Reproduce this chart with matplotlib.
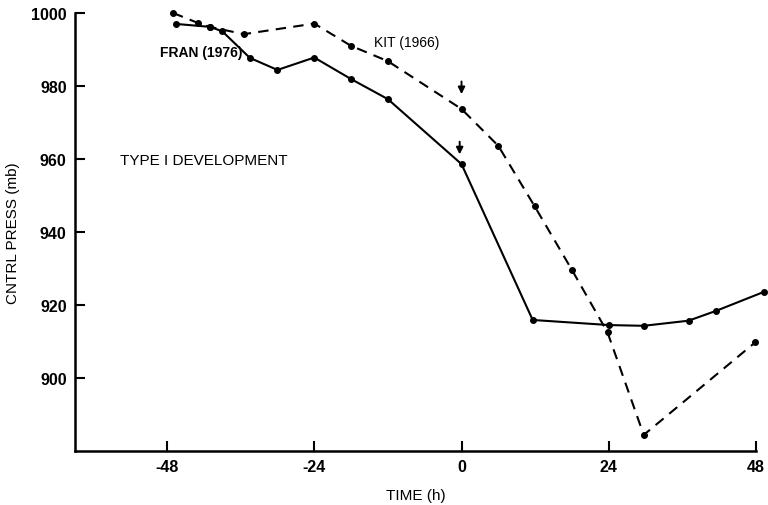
import matplotlib
matplotlib.use("Agg")
import matplotlib.pyplot as plt

# Data
fran_t = [-46.5, -41, -39, -34.5, -30, -24, -18, -12, 0, 11.6, 24.1, 29.7, 37.0, 41.5, 49.3]
fran_p = [997.0, 996.2, 995.0, 987.7, 984.4, 987.8, 981.9, 976.4, 958.6, 915.9, 914.5, 914.3, 915.7, 918.4, 923.6]

kit_t = [-47, -43, -41, -35.5, -24, -18, -12, 0, 6, 11.9, 18, 23.8, 29.7, 47.9]
kit_p = [1000.0, 997.3, 996.2, 994.2, 997.1, 991.0, 986.8, 973.7, 963.6, 947.1, 929.6, 912.5, 884.4, 909.8]

x_ticks = [-48, -24, 0, 24, 48]
x_tick_labels = ['-48', '-24', '0', '24', '48']
y_ticks = [900, 920, 940, 960, 980, 1000]
y_tick_labels = ['900', '920', '940', '960', '980', '1000']

plt.rcParams['font.family'] = ['Liberation Sans', 'DejaVu Sans']

fig = plt.figure(figsize=(7.68, 5.06), dpi=100)
ax = fig.add_axes([75/768, 54/506, (756-75)/768, (492-54)/506])

ax.plot(fran_t, fran_p, color='black', lw=1.5, marker='o', ms=4, clip_on=False)
ax.plot(kit_t, kit_p, color='black', lw=1.5, ls=(0, (5, 3.5)), marker='o', ms=4, clip_on=False)

ax.set_xlim(-63, 48)
ax.set_ylim(880, 1000)
ax.set_xticks(x_ticks)
ax.set_xticklabels(x_tick_labels)
ax.set_yticks(y_ticks)
ax.set_yticklabels(y_tick_labels)

for s in ['top', 'right']:
    ax.spines[s].set_visible(False)
for s in ['left', 'bottom']:
    ax.spines[s].set_linewidth(1.8)

ax.tick_params(direction='in', length=7, width=1.5, labelsize=11.5, pad=6)
for lab in ax.get_xticklabels() + ax.get_yticklabels():
    lab.set_fontweight('bold')

ax.set_xlabel('TIME (h)', fontsize=11, labelpad=10)
ax.set_ylabel('CNTRL PRESS (mb)', fontsize=11, labelpad=8)

ax.text(-49.2, 989.3, 'FRAN (1976)', fontsize=10, fontweight='bold', va='center', ha='left')
ax.text(-14.2, 992.0, 'KIT (1966)', fontsize=10, va='center', ha='left')
ax.text(-55.7, 959.7, 'TYPE I DEVELOPMENT', fontsize=11, va='center', ha='left')

ax.annotate('', xy=(0, 977.0), xytext=(0, 982.0),
            arrowprops=dict(arrowstyle='-|>', color='black', lw=1.4, mutation_scale=10))
ax.annotate('', xy=(-0.3, 960.5), xytext=(-0.3, 965.5),
            arrowprops=dict(arrowstyle='-|>', color='black', lw=1.4, mutation_scale=10))

fig.savefig('out.png', dpi=100)
